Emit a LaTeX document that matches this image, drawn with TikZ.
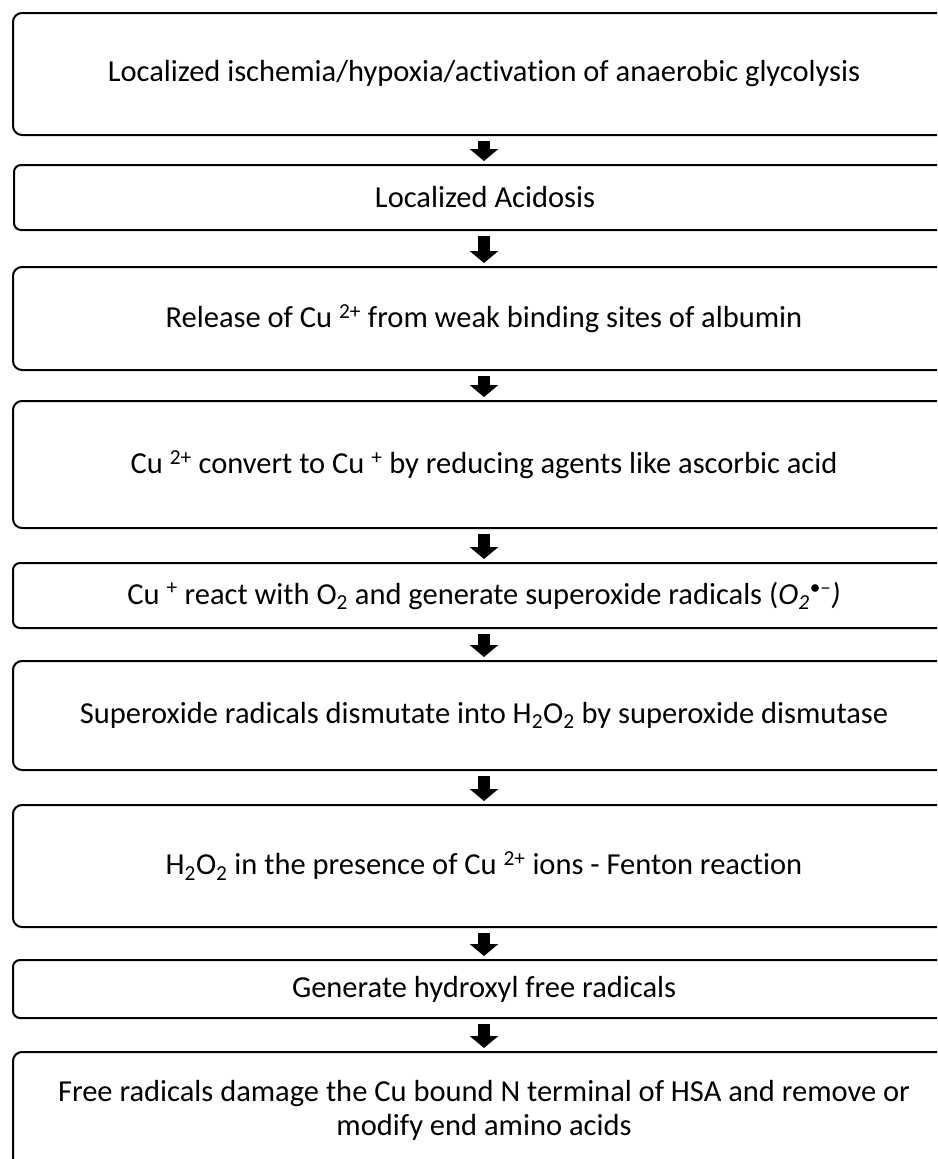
\documentclass[tikz,border=0pt]{standalone}
\usepackage{fontspec}
\setmainfont{Carlito}[Ligatures=NoCommon]
\usetikzlibrary{arrows.meta, positioning}
\newcommand{\stepfont}{\fontsize{30.5}{34}\selectfont}
\tikzset{
  stepbox/.style={draw, line width=2pt, rounded corners=9pt, minimum width=942pt,
    align=center, inner sep=0pt, font=\stepfont},
  flowarrow/.style={line width=12pt, -{Triangle[width=28pt, length=12pt]},
    shorten <=5pt, shorten >=3pt}
}

\begin{document}
\begin{tikzpicture}[x=1pt, y=-1pt]
\useasboundingbox (0,0) rectangle (937,1159);
\clip (0,0) rectangle (937,1159);
\node[stepbox, minimum height=122pt] (ischemia) at (484,74) {Localized ischemia/hypoxia/activation of anaerobic glycolysis};
\node[stepbox, minimum height=65pt, rounded corners=7pt] (acidosis) at (485,197.5) {Localized Acidosis};
\node[stepbox, minimum height=103pt] (release) at (484,318.5) {Release of Cu \textsuperscript{2+} from weak binding sites of albumin};
\node[stepbox, minimum height=127pt] (convert) at (484,464.5) {Cu \textsuperscript{2+} convert to Cu \textsuperscript{+} by reducing agents like ascorbic acid};
\node[stepbox, minimum height=65pt, rounded corners=7pt] (react) at (484,595.5) {Cu \textsuperscript{+} react with O\textsubscript{2} and generate superoxide radicals (\textit{O\textsubscript{2}\textsuperscript{•–})}};
\node[stepbox, minimum height=109pt] (dismutate) at (484,715.5) {Superoxide radicals dismutate into H\textsubscript{2}O\textsubscript{2} by superoxide dismutase};
\node[stepbox, minimum height=122pt] (fenton) at (484,866) {H\textsubscript{2}O\textsubscript{2} in the presence of Cu \textsuperscript{2+} ions - Fenton reaction};
\node[stepbox, minimum height=58pt, rounded corners=7pt] (hydroxyl) at (484,989) {Generate hydroxyl free radicals};
\node[stepbox, minimum height=116pt] (damage) at (484,1110) {Free radicals damage the Cu bound N terminal of HSA and remove or\\ modify end amino acids};
% arrows between the steps
\foreach \from/\to in {ischemia/acidosis, acidosis/release, release/convert, convert/react,
  react/dismutate, dismutate/fenton, fenton/hydroxyl, hydroxyl/damage}
  \draw[flowarrow] (\from.south -| 484,0) -- (\to.north -| 484,0);
\end{tikzpicture}
\end{document}
